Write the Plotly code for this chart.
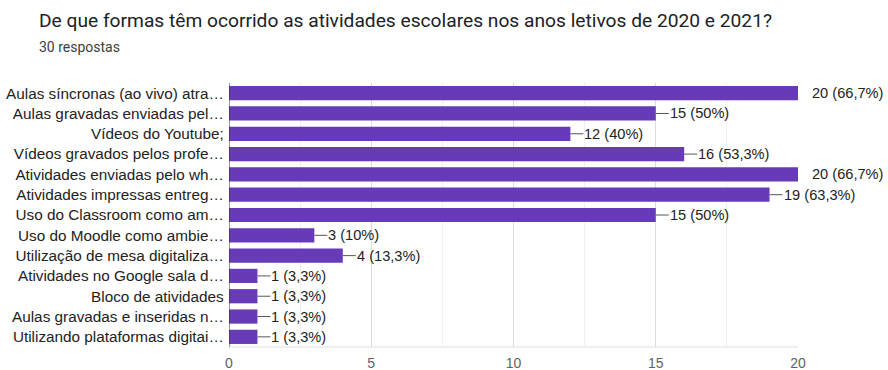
import plotly.graph_objects as go

categories = [
    "Aulas síncronas (ao vivo) atra…",
    "Aulas gravadas enviadas pel…",
    "Vídeos do Youtube;",
    "Vídeos gravados pelos profe…",
    "Atividades enviadas pelo wh…",
    "Atividades impressas entreg…",
    "Uso do Classroom como am…",
    "Uso do Moodle como ambie…",
    "Utilização de mesa digitaliza…",
    "Atividades no Google sala d…",
    "Bloco de atividades",
    "Aulas gravadas e inseridas n…",
    "Utilizando plataformas digitai…",
]
values = [20, 15, 12, 16, 20, 19, 15, 3, 4, 1, 1, 1, 1]
percent_labels = ["66,7%", "50%", "40%", "53,3%", "66,7%", "63,3%", "50%",
                  "10%", "13,3%", "3,3%", "3,3%", "3,3%", "3,3%"]
x_ticks = [0, 5, 10, 15, 20]

BAR = "#673ab7"
TXT = "#222222"
CAT_FONT = dict(family="Liberation Sans, Arial, sans-serif", size=15.3, color=TXT)
VAL_FONT = dict(family="Liberation Sans, Arial, sans-serif", size=14.6, color=TXT)

fig = go.Figure(go.Bar(
    x=values, y=categories, orientation="h",
    marker=dict(color=BAR, line=dict(width=0)),
    hoverinfo="skip",
))

annotations = []
for cat, v, p in zip(categories, values, percent_labels):
    txt = f"{v} ({p})"
    if v >= max(x_ticks):
        annotations.append(dict(
            x=v, y=cat, xref="x", yref="y", text=txt, showarrow=False,
            xanchor="left", xshift=12, font=VAL_FONT,
        ))
    else:
        annotations.append(dict(
            x=v, y=cat, xref="x", yref="y", text=txt, showarrow=True,
            arrowhead=0, arrowwidth=1, arrowcolor="#555555",
            ax=13, ay=0, xanchor="left", standoff=0, startstandoff=0,
            borderpad=0, font=VAL_FONT,
        ))

annotations.append(dict(
    x=37, y=20, xref="pixel", yref="pixel", text="De que formas têm ocorrido as atividades escolares nos anos letivos de 2020 e 2021?",
    showarrow=False, xanchor="left", yanchor="middle",
    font=dict(family="Roboto, Arial, sans-serif", size=19.2, color="#202124"),
))
annotations.append(dict(
    x=37, y=47, xref="pixel", yref="pixel", text="30 respostas",
    showarrow=False, xanchor="left", yanchor="middle",
    font=dict(family="Roboto, Arial, sans-serif", size=14, color="#3c4043"),
))

# convert pixel refs to paper refs
W, H = 888, 370
ml, mr, mt, mb = 229, 90, 83, 23
for a in annotations:
    if a.get("xref") == "pixel":
        a["x"] = (a["x"] - ml) / (W - ml - mr)
        a["y"] = (H - mb - a["y"]) / (H - mt - mb)
        a["xref"] = "paper"
        a["yref"] = "paper"

fig.update_layout(
    width=W, height=H,
    margin=dict(l=ml, r=mr, t=mt, b=mb, pad=0, autoexpand=False),
    paper_bgcolor="white", plot_bgcolor="white",
    showlegend=False,
    bargap=0.3,
    annotations=annotations,
    xaxis=dict(
        range=[0, 20], tickvals=x_ticks, ticktext=[str(t) for t in x_ticks],
        showgrid=True, gridcolor="#dcdcdc", gridwidth=1,
        minor=dict(dtick=2.5, tick0=0, showgrid=True, gridcolor="#f0f0f0", gridwidth=1),
        zeroline=False, showline=False, ticks="",
        ticklabelstandoff=6, automargin=False,
        tickfont=dict(family="Liberation Sans, Arial, sans-serif", size=14, color="#5f6368"),
        fixedrange=True,
    ),
    yaxis=dict(
        autorange="reversed", categoryorder="array", categoryarray=categories,
        showgrid=False, zeroline=False, showline=False, ticks="",
        ticksuffix=" ", automargin=False,
        tickfont=CAT_FONT, fixedrange=True,
    ),
    shapes=[
        dict(type="line", xref="paper", yref="paper", x0=0, x1=1, y0=0, y1=0,
             line=dict(color="#e0e0e0", width=1), layer="below"),
        dict(type="line", xref="x", yref="paper", x0=0, x1=0, y0=0, y1=1,
             line=dict(color="#333333", width=1)),
    ],
)

fig.write_html("out.html")
